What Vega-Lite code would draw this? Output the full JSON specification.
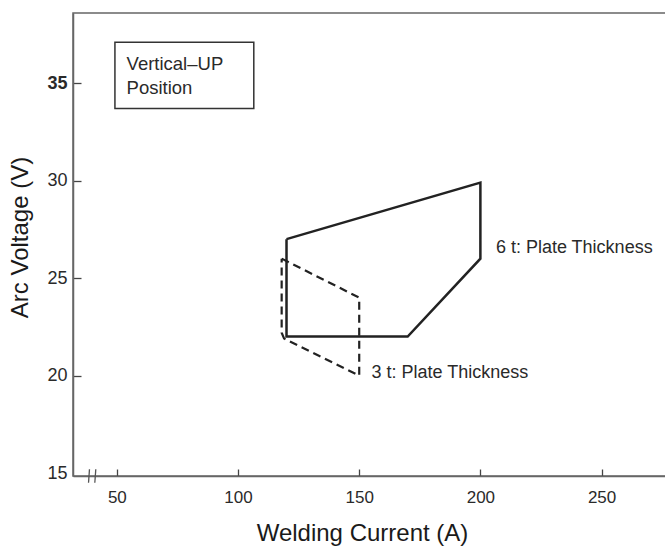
{
  "$schema": "https://vega.github.io/schema/vega-lite/v6.json",
  "width": 594,
  "height": 463,
  "autosize": "none",
  "padding": {"left": 73, "top": 13, "right": 0, "bottom": 71},
  "background": "white",
  "config": {
    "view": {"stroke": "#666", "strokeWidth": 1.5},
    "font": "Liberation Sans",
    "text": {"font": "Liberation Sans", "color": "#2a2a2a"}
  },
  "datasets": {
    "solid": [
      {"current": 120, "voltage": 27, "order": 1},
      {"current": 200, "voltage": 29.9, "order": 2},
      {"current": 200, "voltage": 26, "order": 3},
      {"current": 170, "voltage": 22, "order": 4},
      {"current": 120, "voltage": 22, "order": 5},
      {"current": 120, "voltage": 27, "order": 6}
    ],
    "dashed": [
      {"current": 118, "voltage": 26, "order": 1},
      {"current": 150, "voltage": 24, "order": 2},
      {"current": 150, "voltage": 20, "order": 3},
      {"current": 119, "voltage": 21.9, "order": 4},
      {"current": 118, "voltage": 22.2, "order": 5},
      {"current": 118, "voltage": 26, "order": 6}
    ],
    "labels": [
      {"current": 206.4, "voltage": 26.55, "text": "6 t: Plate Thickness"},
      {"current": 155.1, "voltage": 20.12, "text": "3 t: Plate Thickness"}
    ],
    "box": [
      {"x": 49.2, "x2": 106.5, "y": 37.1, "y2": 33.7}
    ],
    "boxtext": [
      {"current": 54.0, "voltage": 35.99, "text": "Vertical–UP"},
      {"current": 54.0, "voltage": 34.74, "text": "Position"}
    ],
    "breaks": [
      {"x": 38.7, "x2": 38.3, "y": 15.2, "y2": 14.5},
      {"x": 41.3, "x2": 40.9, "y": 15.2, "y2": 14.5}
    ]
  },
  "layer": [
    {
      "data": {"name": "box"},
      "mark": {"type": "rect", "fill": "white", "stroke": "#333", "strokeWidth": 1.5},
      "encoding": {
        "x": {"field": "x", "type": "quantitative", "scale": {"domain": [31.9, 277.0], "nice": false, "zero": false},
          "axis": {
            "values": [50, 100, 150, 200, 250],
            "grid": false,
            "tickSize": -7,
            "tickColor": "#444",
            "tickWidth": 1.3,
            "domainColor": "#666",
            "domainWidth": 1.5,
            "labelFontSize": 17,
            "labelColor": "#2a2a2a",
            "labelPadding": 20,
            "title": "Welding Current  (A)",
            "titleFontSize": 24,
            "titleFontWeight": "normal",
            "titleColor": "#1a1a1a",
            "titleX": 289,
            "titleY": 57,
            "titleBaseline": "middle",
            "titleAnchor": null
          }
        },
        "x2": {"field": "x2"},
        "y": {"field": "y", "type": "quantitative", "scale": {"domain": [14.85, 38.6], "nice": false, "zero": false},
          "axis": {
            "values": [15, 20, 25, 30, 35],
            "grid": false,
            "tickSize": -8,
            "tickColor": "#444",
            "tickWidth": 1.3,
            "tickOpacity": {"condition": {"test": "datum.value == 15", "value": 0}, "value": 1},
            "domainColor": "#666",
            "domainWidth": 1.5,
            "labelFontSize": 18,
            "labelColor": "#2a2a2a",
            "labelFontWeight": {"condition": {"test": "datum.value == 35", "value": "bold"}, "value": "normal"},
            "labelPadding": 14,
            "title": "Arc Voltage  (V)",
            "titleFontSize": 24,
            "titleFontWeight": "normal",
            "titleColor": "#1a1a1a",
            "titleX": -53,
            "titleY": 224,
            "titleBaseline": "middle",
            "titleAnchor": null
          }
        },
        "y2": {"field": "y2"}
      }
    },
    {
      "data": {"name": "boxtext"},
      "mark": {"type": "text", "align": "left", "baseline": "middle", "fontSize": 18.5},
      "encoding": {
        "x": {"field": "current", "type": "quantitative"},
        "y": {"field": "voltage", "type": "quantitative"},
        "text": {"field": "text"}
      }
    },
    {
      "data": {"name": "solid"},
      "mark": {"type": "line", "stroke": "#222", "strokeWidth": 2.5, "strokeJoin": "miter"},
      "encoding": {
        "x": {"field": "current", "type": "quantitative"},
        "y": {"field": "voltage", "type": "quantitative"},
        "order": {"field": "order"}
      }
    },
    {
      "data": {"name": "dashed"},
      "mark": {"type": "line", "stroke": "#222", "strokeWidth": 2.2, "strokeDash": [8, 5]},
      "encoding": {
        "x": {"field": "current", "type": "quantitative"},
        "y": {"field": "voltage", "type": "quantitative"},
        "order": {"field": "order"}
      }
    },
    {
      "data": {"name": "labels"},
      "mark": {"type": "text", "align": "left", "baseline": "middle", "fontSize": 18},
      "encoding": {
        "x": {"field": "current", "type": "quantitative"},
        "y": {"field": "voltage", "type": "quantitative"},
        "text": {"field": "text"}
      }
    },
    {
      "data": {"name": "breaks"},
      "mark": {"type": "rule", "stroke": "#555", "strokeWidth": 1.3},
      "encoding": {
        "x": {"field": "x", "type": "quantitative"},
        "x2": {"field": "x2"},
        "y": {"field": "y", "type": "quantitative"},
        "y2": {"field": "y2"}
      }
    }
  ]
}
